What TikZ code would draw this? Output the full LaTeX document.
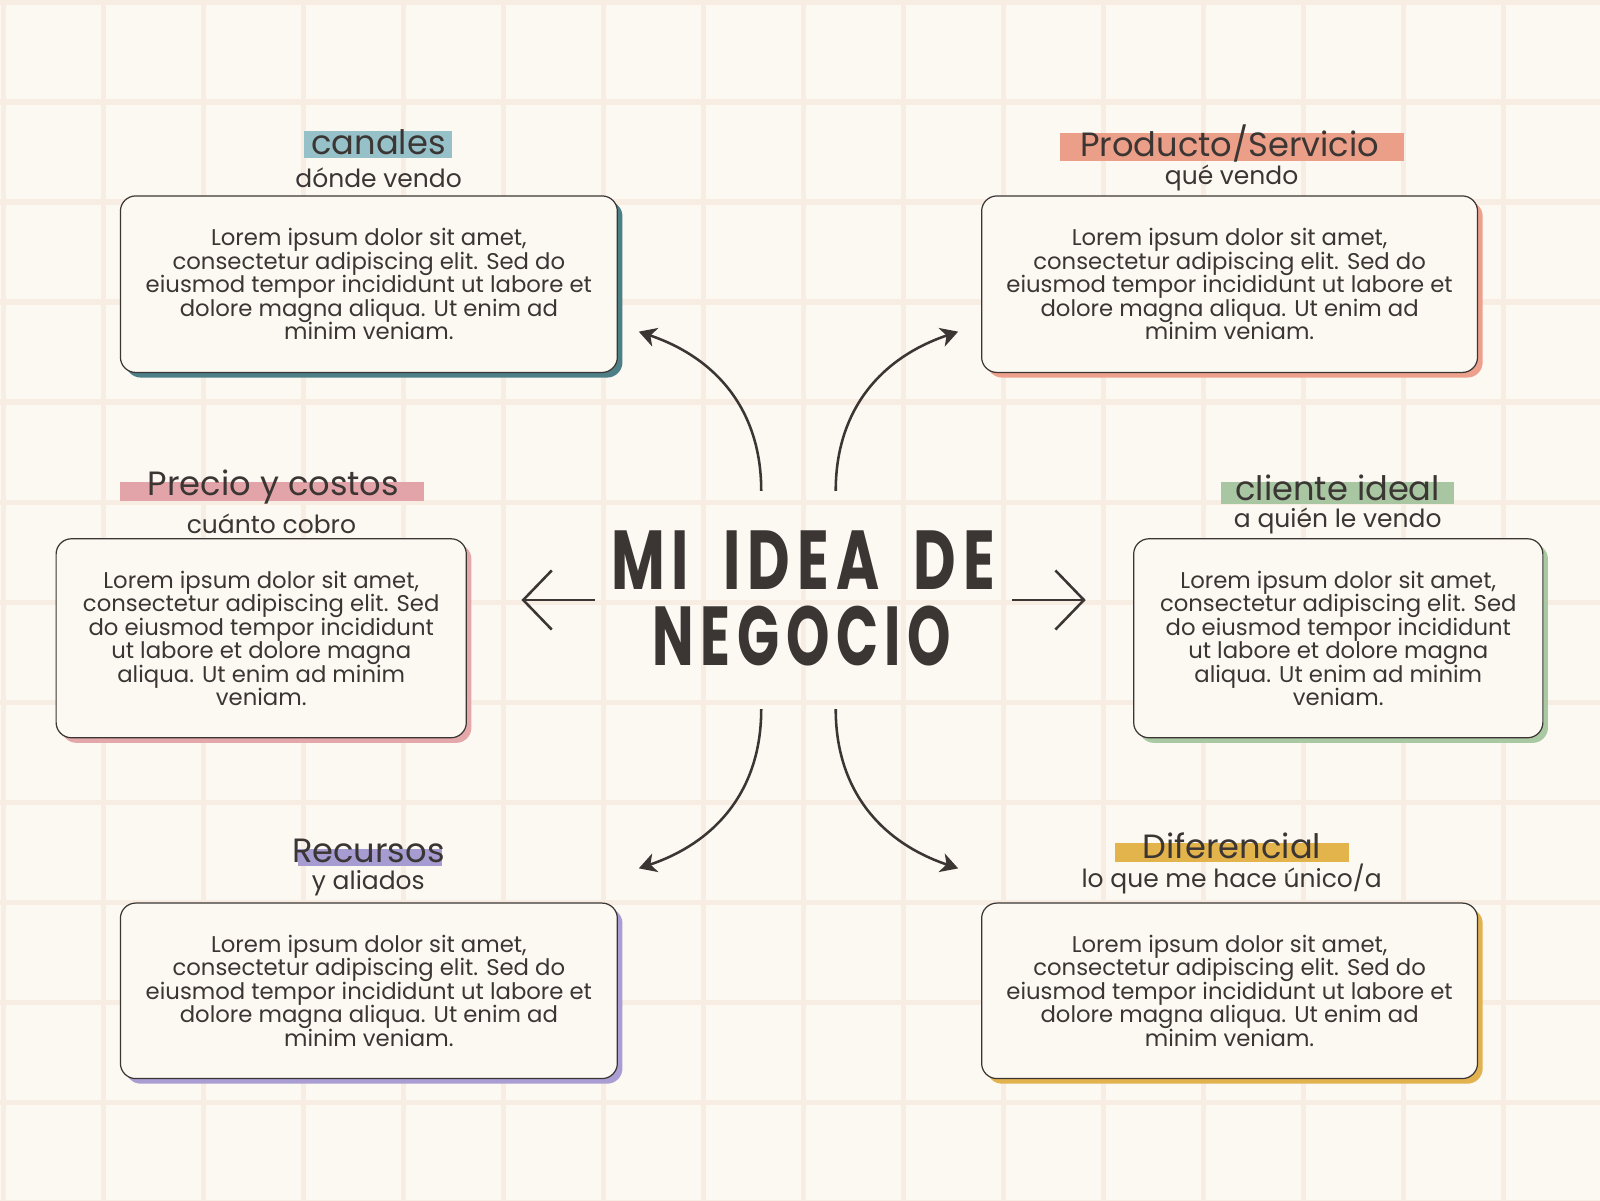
\documentclass[tikz,border=0pt]{standalone}
\usepackage{fontspec}
\setmainfont{Poppins}
\newfontfamily\bigfont[LetterSpace=12]{Poppins}
\usepackage{graphicx}
\usetikzlibrary{arrows.meta,shadows}
\definecolor{bgc}{HTML}{FCF9F3}
\definecolor{gridc}{HTML}{F7EDE2}
\definecolor{ink}{HTML}{3B3634}
\definecolor{shA}{HTML}{4D7F87}
\definecolor{shB}{HTML}{EDA18C}
\definecolor{shC}{HTML}{E4A7AA}
\definecolor{shD}{HTML}{A9C9A3}
\definecolor{shE}{HTML}{A99DD3}
\definecolor{shF}{HTML}{E2B24E}
\definecolor{hlA}{HTML}{97C1C9}
\definecolor{hlB}{HTML}{EC9F88}
\definecolor{hlC}{HTML}{E2A4A8}
\definecolor{hlD}{HTML}{A7C6A1}
\definecolor{hlE}{HTML}{A69CD2}
\definecolor{hlF}{HTML}{E3B34C}
\tikzset{
  gridline/.style={draw=gridc,line width=5pt},
  card/.style={draw=ink,line width=1.2pt,fill=bgc,rounded corners=15pt,align=center,
    text=ink,font=\fontsize{22.3}{23}\selectfont,inner sep=0pt,
    general shadow={fill=#1,shadow xshift=5pt,shadow yshift=-5pt}},
  hlbar/.style={fill=#1,draw=none,inner sep=0pt},
  ttl/.style={text=ink,font=\fontsize{33}{36}\selectfont,inner sep=0pt},
  sub/.style={text=ink,font=\fontsize{24.5}{26}\selectfont,inner sep=0pt},
  bigtitle/.style={text=ink,font=\bigfont\bfseries\fontsize{82}{74}\selectfont,inner sep=0pt},
  straightarrow/.style={draw=ink,line width=2.5pt,-{Straight Barb[length=28pt,width=58pt]}},
  curvearrow/.style={draw=ink,line width=2.5pt,-{Stealth[length=17pt,width=19pt,inset=5pt]}},
}
\begin{document}
\begin{tikzpicture}[x=1pt,y=-1pt]
\useasboundingbox (0,0) rectangle (1568,1176);
\fill[bgc] (0,0) rectangle (1568,1176);
\foreach \gx in {3,101,...,1571} \draw[gridline] (\gx,0) -- (\gx,1176);
\foreach \gy in {2,100,...,1180} \draw[gridline] (0,\gy) -- (1568,\gy);

% cards
\node[card=shA,minimum width=487pt,minimum height=173pt] (canales) at (361.5,278.5)
 {Lorem ipsum dolor sit amet,\\consectetur adipiscing elit. Sed do\\eiusmod tempor incididunt ut labore et\\dolore magna aliqua. Ut enim ad\\minim veniam.};
\node[card=shB,minimum width=486pt,minimum height=173pt] (producto) at (1205,278.5)
 {Lorem ipsum dolor sit amet,\\consectetur adipiscing elit. Sed do\\eiusmod tempor incididunt ut labore et\\dolore magna aliqua. Ut enim ad\\minim veniam.};
\node[card=shC,minimum width=402pt,minimum height=195pt] (precio) at (256,625.5)
 {Lorem ipsum dolor sit amet,\\consectetur adipiscing elit. Sed\\do eiusmod tempor incididunt\\ut labore et dolore magna\\aliqua. Ut enim ad minim\\veniam.};
\node[card=shD,minimum width=401pt,minimum height=195pt] (cliente) at (1311.5,625.5)
 {Lorem ipsum dolor sit amet,\\consectetur adipiscing elit. Sed\\do eiusmod tempor incididunt\\ut labore et dolore magna\\aliqua. Ut enim ad minim\\veniam.};
\node[card=shE,minimum width=487pt,minimum height=172pt] (recursos) at (361.5,971)
 {Lorem ipsum dolor sit amet,\\consectetur adipiscing elit. Sed do\\eiusmod tempor incididunt ut labore et\\dolore magna aliqua. Ut enim ad\\minim veniam.};
\node[card=shF,minimum width=486pt,minimum height=172pt] (diferencial) at (1205,971)
 {Lorem ipsum dolor sit amet,\\consectetur adipiscing elit. Sed do\\eiusmod tempor incididunt ut labore et\\dolore magna aliqua. Ut enim ad\\minim veniam.};

% highlights
\node[hlbar=hlA,minimum width=145pt,minimum height=27pt] (hA) at (370.5,141.5) {};
\node[hlbar=hlB,minimum width=337pt,minimum height=28pt] (hB) at (1207.5,144) {};
\node[hlbar=hlC,minimum width=298pt,minimum height=19pt] (hC) at (266.5,481.5) {};
\node[hlbar=hlD,minimum width=228pt,minimum height=22pt] (hD) at (1311,483) {};
\node[hlbar=hlE,minimum width=141pt,minimum height=17pt] (hE) at (362.5,840.5) {};
\node[hlbar=hlF,minimum width=229pt,minimum height=19pt] (hF) at (1207.5,835.5) {};

% titles
\node[ttl] (tA) at (371,139) {canales};
\node[ttl] (tB) at (1205,141) {Producto/Servicio};
\node[ttl] (tC) at (268,477) {Precio y costos};
\node[ttl] (tD) at (1311,478) {cliente ideal};
\node[ttl] (tE) at (361,834) {Recursos};
\node[ttl] (tF) at (1207,829) {Diferencial};

% subtitles
\node[sub] (sA) at (371,174) {dónde vendo};
\node[sub] (sB) at (1207,174) {qué vendo};
\node[sub] (sC) at (266,513) {cuánto cobro};
\node[sub] (sD) at (1311,511) {a quién le vendo};
\node[sub] (sE) at (361,866) {y aliados};
\node[sub] (sF) at (1207,861) {lo que me hace único/a};

% central title
\node[bigtitle] (center1) at (787,549) {\scalebox{0.7}[1]{MI\hspace{21pt} IDEA\hspace{21pt} DE}};
\node[bigtitle] (center2) at (786,623) {\scalebox{0.66}[1]{NEGOCIO}};

% arrow end points
\coordinate (lA) at (583,588); \coordinate (lB) at (511,588);
\coordinate (rA) at (992,588); \coordinate (rB) at (1064,588);
\coordinate (ulA) at (746,481); \coordinate (ulB) at (626,325);
\coordinate (urA) at (819,481); \coordinate (urB) at (939,325);
\coordinate (llA) at (746,695); \coordinate (llB) at (626,851);
\coordinate (lrA) at (819,695); \coordinate (lrB) at (939,851);

\draw[straightarrow] (lA) -- (lB);
\draw[straightarrow] (rA) -- (rB);
\draw[curvearrow] (ulA) .. controls (746,400) and (700,350) .. (ulB);
\draw[curvearrow] (urA) .. controls (819,400) and (865,350) .. (urB);
\draw[curvearrow] (llA) .. controls (746,776) and (700,826) .. (llB);
\draw[curvearrow] (lrA) .. controls (819,776) and (865,826) .. (lrB);
\end{tikzpicture}
\end{document}
